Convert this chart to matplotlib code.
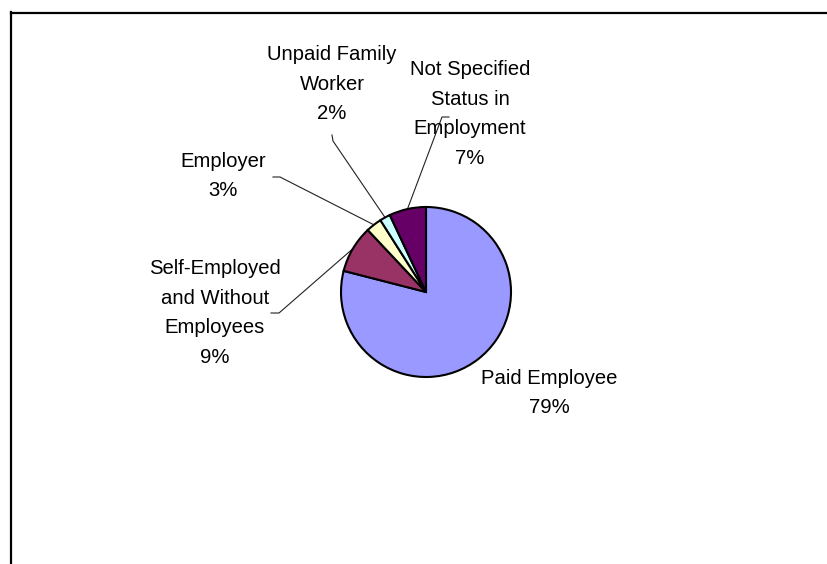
import numpy as np
import matplotlib.pyplot as plt

W, H = 827, 564

# Status in employment shares (%)
categories = ['Paid Employee',
              'Self-Employed\nand Without\nEmployees',
              'Employer',
              'Unpaid Family\nWorker',
              'Not Specified\nStatus in\nEmployment']
shares = [79, 9, 3, 2, 7]
colors = ['#9999FF', '#993366', '#FFFFCC', '#CCFFFF', '#660066']

# label block centres, in pixels from the top-left corner
label_pos = [(549, 393), (215, 313), (223, 176), (332, 84), (470, 114)]
# leader line points next to each label (pixels), None -> no leader
leader_pts = [None,
              [(271, 313), (279, 313)],
              [(273, 177), (280, 177)],
              [(332, 135), (333, 141)],
              [(449, 117), (442, 117)]]

cx, cy, r = 426, 292, 85

fig = plt.figure(figsize=(W / 100, H / 100), dpi=100)
ax = fig.add_axes([0, 0, 1, 1])

wedges, _ = ax.pie(shares, colors=colors, startangle=90, counterclock=False,
                   center=(cx, H - cy), radius=r,
                   wedgeprops=dict(edgecolor='black', linewidth=1.5))

for w, cat, val, (lx, ly), pts in zip(wedges, categories, shares, label_pos, leader_pts):
    ax.text(lx, H - ly, f'{cat}\n{val}%', ha='center', va='center',
            fontsize=14.6, linespacing=1.7, family='Liberation Sans', color='black')
    if pts is None:
        continue
    mid = np.deg2rad((w.theta1 + w.theta2) / 2)
    ex, ey = cx + r * np.cos(mid), (H - cy) + r * np.sin(mid)
    xs = [p[0] for p in pts] + [ex]
    ys = [H - p[1] for p in pts] + [ey]
    ax.plot(xs, ys, color='#222222', lw=0.8, zorder=0)

# chart area border (runs off the right and bottom edges)
ax.plot([10.5, 10.5], [0, H - 12], color='black', lw=1.6, solid_capstyle='projecting')
ax.plot([10.5, W + 5], [H - 12.5, H - 12.5], color='black', lw=1.6, solid_capstyle='projecting')

ax.set_xlim(0, W)
ax.set_ylim(0, H)
ax.set_aspect('equal')
ax.axis('off')

fig.savefig('out.png', dpi=100)
